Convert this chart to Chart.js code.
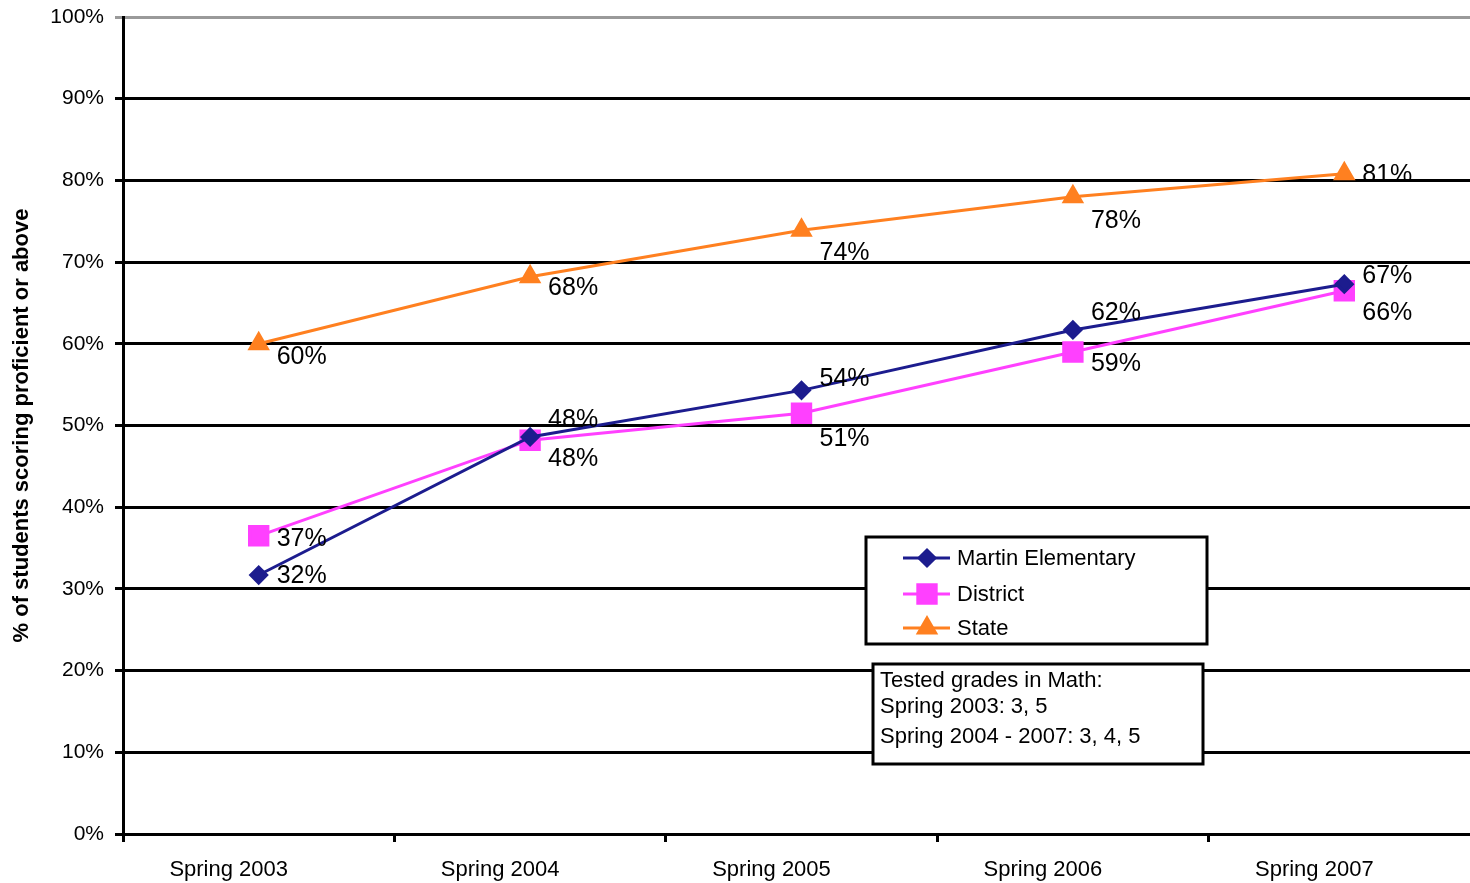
<!DOCTYPE html>
<html>
<head>
<meta charset="utf-8">
<script src="https://cdn.jsdelivr.net/npm/chart.js@4/dist/chart.umd.min.js"></script>
<style>
    body { margin: 0; background: #fff; overflow: hidden; }
</style>
</head>
<body>
<canvas id="mathChart" width="1480" height="883"></canvas>
<script>
// Data
const categories = ['Spring 2003', 'Spring 2004', 'Spring 2005', 'Spring 2006', 'Spring 2007'];
const martinValues = [31.7, 48.6, 54.3, 61.7, 67.3];
const districtValues = [36.5, 48.2, 51.5, 59.0, 66.5];
const stateValues = [60.0, 68.2, 73.9, 78.0, 80.8];
const martinLabels = ['32%', '48%', '54%', '62%', '67%'];
const districtLabels = ['37%', '48%', '51%', '59%', '66%'];
const stateLabels = ['60%', '68%', '74%', '78%', '81%'];
const noteLines = ['Tested grades in Math:', 'Spring 2003: 3, 5', 'Spring 2004 - 2007: 3, 4, 5'];

const FONT = '"Liberation Sans", Arial, sans-serif';

// vertical nudge of each value label, in px (placement only)
const labelShift = [
    [0, -18, -12, -18, -9],
    [2, 18, 25, 11, 21],
    [12, 10, 22, 23, 0]
];

const valueLabels = {
    id: 'valueLabels',
    afterDatasetsDraw(chart) {
        const ctx = chart.ctx;
        ctx.save();
        ctx.font = '25px ' + FONT;
        ctx.fillStyle = '#000';
        ctx.textAlign = 'left';
        ctx.textBaseline = 'middle';
        chart.data.datasets.forEach((ds, i) => {
            const meta = chart.getDatasetMeta(i);
            meta.data.forEach((pt, j) => {
                ctx.fillText(ds.pointLabels[j], pt.x + 18, pt.y + labelShift[i][j] + 1);
            });
        });
        ctx.restore();
    }
};

const boxes = {
    id: 'boxes',
    afterDraw(chart) {
        const ctx = chart.ctx;
        ctx.save();
        // legend box
        ctx.fillStyle = '#fff';
        ctx.fillRect(866, 537, 341, 107);
        ctx.lineWidth = 3;
        ctx.strokeStyle = '#000';
        ctx.strokeRect(866, 537, 341, 107);
        const rows = [558, 594, 628];
        chart.data.datasets.forEach((ds, i) => {
            const y = rows[i];
            ctx.strokeStyle = ds.borderColor;
            ctx.lineWidth = 3;
            ctx.beginPath();
            ctx.moveTo(903, y);
            ctx.lineTo(950, y);
            ctx.stroke();
            Chart.helpers.drawPoint(ctx, {
                pointStyle: ds.pointStyle,
                radius: ds.pointRadius,
                rotation: 0,
                borderWidth: 1
            }, 927, y);
            ctx.fillStyle = ds.borderColor;
            ctx.fill();
            ctx.fillStyle = '#000';
            ctx.font = '22px ' + FONT;
            ctx.textBaseline = 'middle';
            ctx.fillText(ds.label, 957, y + 1);
        });
        // note box
        ctx.fillStyle = '#fff';
        ctx.fillRect(873, 664, 330, 100);
        ctx.lineWidth = 3;
        ctx.strokeStyle = '#000';
        ctx.strokeRect(873, 664, 330, 100);
        ctx.fillStyle = '#000';
        ctx.font = '22px ' + FONT;
        ctx.textBaseline = 'middle';
        const noteY = [681, 707, 737];
        noteLines.forEach((t, k) => ctx.fillText(t, 880, noteY[k]));
        ctx.restore();
    }
};

function lineSet(label, values, labels, color, style, radius) {
    return {
        label: label,
        data: values,
        pointLabels: labels,
        borderColor: color,
        backgroundColor: color,
        pointBackgroundColor: color,
        pointBorderColor: color,
        borderWidth: 3,
        pointStyle: style,
        pointRadius: radius,
        pointHoverRadius: radius,
        tension: 0
    };
}

new Chart(document.getElementById('mathChart'), {
    type: 'line',
    data: {
        labels: categories,
        datasets: [
            lineSet('Martin Elementary', martinValues, martinLabels, '#1c1c8e', 'rectRot', 8),
            lineSet('District', districtValues, districtLabels, '#ff40ff', 'rect', 13),
            lineSet('State', stateValues, stateLabels, '#ff8020', 'triangle', 10)
        ]
    },
    options: {
        responsive: false,
        animation: false,
        layout: { autoPadding: false, padding: { top: 17, right: 0, left: 0, bottom: 0 } },
        plugins: {
            legend: { display: false },
            tooltip: { enabled: false }
        },
        scales: {
            x: {
                offset: true,
                afterFit(scale) {
                    scale.height = 49;
                    scale.paddingLeft = 0;
                    scale.paddingRight = 0;
                },
                grid: {
                    offset: true,
                    drawOnChartArea: false,
                    color: '#000',
                    lineWidth: 3,
                    tickLength: 8
                },
                border: { display: true, color: '#000', width: 3 },
                ticks: {
                    color: '#000',
                    font: { family: FONT, size: 22 },
                    padding: 15,
                    labelOffset: -30,
                    maxRotation: 0
                }
            },
            y: {
                min: 0,
                max: 100,
                afterFit(scale) {
                    scale.width = 123;
                    scale.paddingTop = 0;
                    scale.paddingBottom = 0;
                },
                grid: {
                    color: c => (c.tick && c.tick.value === 100) ? '#9a9a9a' : '#000',
                    lineWidth: 3,
                    tickLength: 8
                },
                border: { display: true, color: '#000', width: 3 },
                ticks: {
                    stepSize: 10,
                    color: '#000',
                    padding: 11,
                    font: { family: FONT, size: 21 },
                    callback: v => v + '%'
                },
                title: {
                    display: true,
                    text: '% of students scoring proficient or above',
                    color: '#000',
                    font: { family: FONT, size: 22, weight: 'bold' },
                    padding: { top: 9, bottom: 0 }
                }
            }
        }
    },
    plugins: [valueLabels, boxes]
});
</script>
</body>
</html>
